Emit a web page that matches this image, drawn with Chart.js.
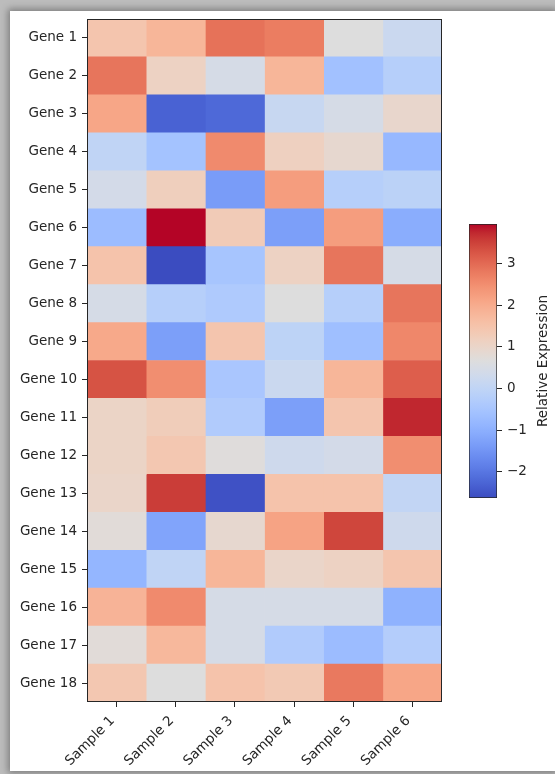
<!DOCTYPE html>
<html>
<head>
<meta charset="utf-8">
<script src="https://cdn.jsdelivr.net/npm/chart.js@4.4.1/dist/chart.umd.min.js"></script>
<style>
  html, body { margin: 0; padding: 0; width: 555px; height: 774px; overflow: hidden; background: #bcbcbc; }
  .card { position: absolute; left: 10px; top: 11px; width: 545px; height: 760px; background: #fff;
          box-shadow: 0 0 7px 2px rgba(0, 0, 0, 0.35); }
  #heat { position: absolute; left: 0; top: 0; }
  #cbar { position: absolute; left: 440px; top: 200px; }
</style>
</head>
<body>
<div class="card"></div>
<canvas id="heat" width="555" height="774"></canvas>
<canvas id="cbar" width="115" height="320"></canvas>
<script>
const genes = ['Gene 1', 'Gene 2', 'Gene 3', 'Gene 4', 'Gene 5', 'Gene 6', 'Gene 7', 'Gene 8', 'Gene 9',
  'Gene 10', 'Gene 11', 'Gene 12', 'Gene 13', 'Gene 14', 'Gene 15', 'Gene 16', 'Gene 17', 'Gene 18'];
const samples = ['Sample 1', 'Sample 2', 'Sample 3', 'Sample 4', 'Sample 5', 'Sample 6'];

// relative expression, one row per gene (Sample 1..6)
const gene1 = [1.45, 1.8, 2.9, 2.75, 0.65, 0.2];
const gene2 = [2.85, 1.1, 0.45, 1.8, -0.6, -0.2];
const gene3 = [2.1, -2.3, -2.2, 0.15, 0.45, 0.95];
const gene4 = [0.0, -0.55, 2.55, 1.15, 0.9, -0.8];
const gene5 = [0.4, 1.2, -1.35, 2.25, -0.2, -0.1];
const gene6 = [-0.7, 3.95, 1.3, -1.3, 2.25, -1.05];
const gene7 = [1.5, -2.63, -0.5, 1.1, 2.85, 0.45];
const gene8 = [0.45, -0.2, -0.35, 0.65, -0.2, 2.85];
const gene9 = [2.05, -1.3, 1.45, -0.05, -0.65, 2.6];
const gene10 = [3.3, 2.5, -0.45, 0.2, 1.8, 3.15];
const gene11 = [1.05, 1.25, -0.3, -1.3, 1.45, 3.75];
const gene12 = [1.05, 1.4, 0.7, 0.3, 0.4, 2.5];
const gene13 = [1.0, 3.55, -2.55, 1.5, 1.5, 0.05];
const gene14 = [0.75, -1.2, 0.9, 2.15, 3.45, 0.3];
const gene15 = [-0.85, 0.0, 1.8, 1.0, 1.1, 1.45];
const gene16 = [1.85, 2.55, 0.45, 0.45, 0.45, -0.95];
const gene17 = [0.75, 1.75, 0.45, -0.3, -0.7, -0.25];
const gene18 = [1.4, 0.65, 1.5, 1.35, 2.8, 2.1];

const colorTicks = [-2, -1, 0, 1, 2, 3];

const expression = [gene1, gene2, gene3, gene4, gene5, gene6, gene7, gene8, gene9,
  gene10, gene11, gene12, gene13, gene14, gene15, gene16, gene17, gene18];
const allVals = expression.flat();
const vmin = Math.min(...allVals);
const vmax = Math.max(...allVals);

// matplotlib coolwarm
const coolwarm = [
  [59, 76, 192], [68, 90, 204], [77, 104, 215], [87, 117, 225], [98, 130, 234], [108, 142, 241],
  [119, 154, 247], [130, 165, 251], [141, 176, 254], [152, 185, 255], [163, 194, 255], [174, 201, 253],
  [184, 208, 249], [194, 213, 244], [204, 217, 238], [213, 219, 230], [221, 221, 221], [229, 216, 209],
  [236, 211, 197], [241, 204, 184], [245, 196, 172], [247, 187, 160], [247, 177, 148], [247, 166, 135],
  [244, 154, 123], [241, 141, 111], [236, 127, 99], [229, 112, 88], [222, 96, 77], [213, 80, 66],
  [203, 62, 56], [192, 40, 47], [180, 4, 38]
];
function cmap(t) {
  t = Math.max(0, Math.min(1, t));
  const f = t * (coolwarm.length - 1);
  const i = Math.min(Math.floor(f), coolwarm.length - 2);
  const k = f - i;
  const a = coolwarm[i], b = coolwarm[i + 1];
  const c = a.map((v, j) => Math.round(v + (b[j] - v) * k));
  return `rgb(${c[0]},${c[1]},${c[2]})`;
}
const colorFor = (v) => cmap((v - vmin) / (vmax - vmin));

const FONT = { family: "'DejaVu Sans', sans-serif", size: 13.5 };
const INK = '#262626';
const minus = (v) => String(v).replace('-', '\u2212');

const frame = {
  id: 'frame',
  afterDraw(chart) {
    const { ctx, chartArea: a } = chart;
    ctx.save();
    ctx.strokeStyle = INK;
    ctx.lineWidth = 1;
    ctx.strokeRect(Math.round(a.left) + 0.5, Math.round(a.top) + 0.5,
      Math.round(a.right - a.left) - 1, Math.round(a.bottom - a.top) - 1);
    ctx.restore();
  }
};

// heatmap: one floating bar per cell
new Chart(document.getElementById('heat'), {
  type: 'bar',
  data: {
    labels: genes,
    datasets: samples.map((s, si) => ({
      label: s,
      data: genes.map(() => [si, si + 1]),
      backgroundColor: expression.map(row => colorFor(row[si])),
      borderWidth: 0,
      barPercentage: 1,
      categoryPercentage: 1
    }))
  },
  options: {
    indexAxis: 'y',
    responsive: false,
    animation: false,
    layout: { padding: { left: 0, top: 19, right: 113, bottom: 0 } },
    plugins: { legend: { display: false }, tooltip: { enabled: false } },
    scales: {
      y: {
        stacked: true,
        afterFit: (s) => { s.width = 87; },
        grid: { offset: false, drawOnChartArea: false, tickLength: 5, color: INK, lineWidth: 1 },
        border: { display: false },
        ticks: { color: INK, font: FONT, padding: 5 }
      },
      x: {
        min: 0,
        max: samples.length,
        afterFit: (s) => { s.height = 72; },
        afterBuildTicks: (s) => { s.ticks = samples.map((_, i) => ({ value: i + 0.5 })); },
        grid: { drawOnChartArea: false, tickLength: 5, color: INK, lineWidth: 1 },
        border: { display: false },
        ticks: {
          color: INK, font: FONT, padding: 6, labelOffset: -4, autoSkip: false,
          minRotation: 45, maxRotation: 45,
          callback: (v, i) => samples[i]
        }
      }
    }
  },
  plugins: [frame]
});

// colorbar
const cbarTitle = {
  id: 'cbarTitle',
  afterDraw(chart) {
    const { ctx, chartArea: a } = chart;
    ctx.save();
    ctx.translate(a.right + 46, (a.top + a.bottom) / 2);
    ctx.rotate(-Math.PI / 2);
    ctx.fillStyle = INK;
    ctx.font = `${FONT.size}px ${FONT.family}`;
    ctx.textAlign = 'center';
    ctx.textBaseline = 'middle';
    ctx.fillText('Relative Expression', 0, 0);
    ctx.restore();
  }
};

new Chart(document.getElementById('cbar'), {
  type: 'bar',
  data: {
    labels: [''],
    datasets: [{
      data: [[vmin, vmax]],
      backgroundColor: (ctx) => {
        const a = ctx.chart.chartArea;
        if (!a) return '#ddd';
        const g = ctx.chart.ctx.createLinearGradient(0, a.bottom, 0, a.top);
        for (let i = 0; i <= 64; i++) g.addColorStop(i / 64, cmap(i / 64));
        return g;
      },
      borderWidth: 1,
      borderColor: INK,
      borderSkipped: false,
      barPercentage: 1,
      categoryPercentage: 1
    }]
  },
  options: {
    responsive: false,
    animation: false,
    layout: { padding: { left: 29, top: 24, right: 0, bottom: 22 } },
    plugins: { legend: { display: false }, tooltip: { enabled: false } },
    scales: {
      x: { display: false },
      y: {
        position: 'right',
        min: vmin,
        max: vmax,
        afterFit: (s) => { s.width = 58; },
        afterBuildTicks: (s) => { s.ticks = colorTicks.map(v => ({ value: v })); },
        grid: { drawOnChartArea: false, tickLength: 5, color: INK, lineWidth: 1 },
        border: { display: false },
        ticks: { color: INK, font: FONT, padding: 5, callback: (v) => minus(v) }
      }
    }
  },
  plugins: [cbarTitle]
});
</script>
</body>
</html>
